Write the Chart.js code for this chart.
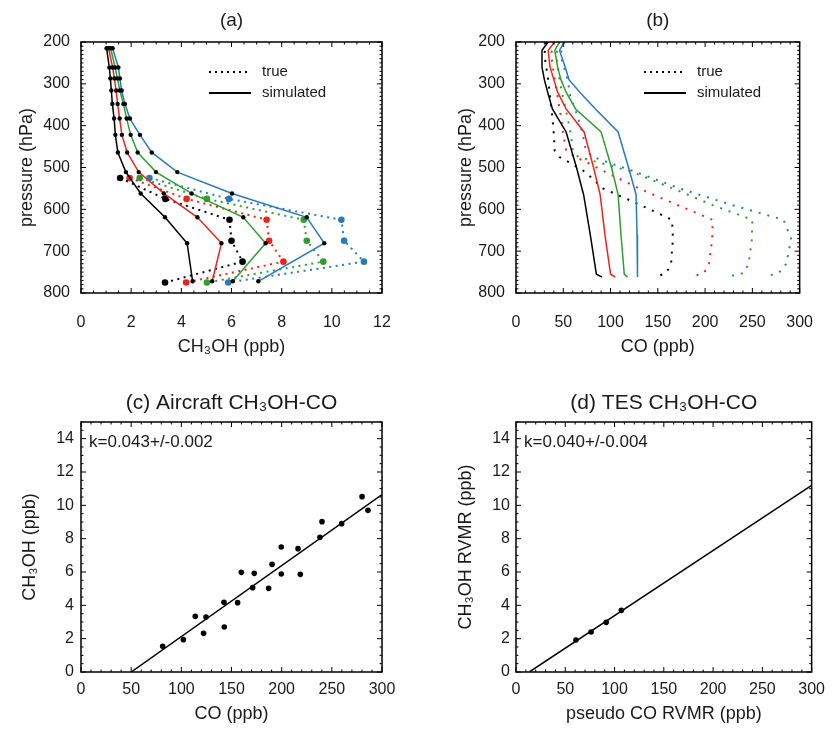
<!DOCTYPE html>
<html>
<head>
<meta charset="utf-8">
<title>CH3OH profiles and CH3OH-CO</title>
<script src="https://cdn.jsdelivr.net/npm/chart.js@4.4.1/dist/chart.umd.min.js"></script>
<style>
  body { margin: 0; background: #fff; }
  #wrap { position: relative; width: 833px; height: 735px; }
  #wrap canvas { position: absolute; }
</style>
</head>
<body>
<div id="wrap">
  <canvas id="panelA" width="416" height="367" style="left:0;top:0"></canvas>
  <canvas id="panelB" width="417" height="367" style="left:416px;top:0"></canvas>
  <canvas id="panelC" width="416" height="368" style="left:0;top:367px"></canvas>
  <canvas id="panelD" width="417" height="368" style="left:416px;top:367px"></canvas>
</div>
<script>
// (a) CH3OH profiles, pressure in hPa
var pSimA = [215, 261, 287, 316, 348, 383, 422, 464, 511, 562, 619, 681, 772];
var simBlackA = [1.02, 1.13, 1.17, 1.21, 1.25, 1.32, 1.37, 1.47, 1.79, 2.38, 3.35, 4.23, 4.45];
var simRedA = [1.10, 1.26, 1.33, 1.40, 1.46, 1.54, 1.63, 1.84, 2.30, 3.30, 4.64, 5.60, 5.23];
var simGreenA = [1.18, 1.36, 1.45, 1.55, 1.69, 1.82, 1.98, 2.26, 2.99, 4.41, 6.47, 7.36, 6.05];
var simBlueA = [1.26, 1.49, 1.55, 1.62, 1.75, 1.95, 2.35, 2.82, 3.84, 6.02, 9.00, 9.70, 7.07];
var pTrueA = [525, 575, 625, 675, 725, 775];
var trueBlackA = [1.56, 3.36, 5.92, 6.00, 6.44, 3.35];
var trueRedA = [1.94, 4.21, 7.40, 7.50, 8.07, 4.19];
var trueGreenA = [2.34, 5.02, 8.88, 9.00, 9.66, 5.02];
var trueBlueA = [2.73, 5.90, 10.38, 10.49, 11.28, 5.87];

// (b) CO profiles
var pSimB = [200, 220, 260, 290, 320, 360, 415, 500, 565, 660, 755, 762];
var simBlackB = [34, 27.5, 27.5, 30, 33.5, 38.5, 53, 64, 71.5, 78.5, 85, 91];
var simRedB = [41, 34, 36, 40, 44, 53, 72, 82, 89, 94, 100, 105];
var simGreenB = [46, 41, 44, 47.5, 53, 63, 90, 101, 108, 111, 114.5, 118];
var simBlueB = [51, 46, 52, 56, 67.5, 84, 108, 119, 127, 128, 128.5, 128.5];
var pTrueB = [200, 230, 290, 330, 380, 420, 460, 475, 490, 510, 550, 590, 625, 670, 730, 752, 760];
var trueBlackB = [32, 30, 34, 36, 38.5, 40, 41, 46, 58, 73, 92, 132, 165, 166, 164, 159, 150];
var trueRedB = [40, 37, 41, 44, 47.5, 50, 53, 63, 77, 94, 130, 171, 208, 207.5, 204, 199, 188];
var trueGreenB = [46, 42.5, 46, 49.5, 54.5, 58, 60, 66, 91, 122, 166, 208, 250, 249.5, 246, 241, 226];
var trueBlueB = [51, 47, 54.5, 57.5, 65.5, 70.5, 74, 82, 100, 126, 173, 229, 283, 291, 286, 278, 264];

// (c) aircraft CH3OH vs CO
var coC = [81.4, 102, 113.9, 124.6, 122.2, 142.8, 142.5, 156.1, 159.8, 171.1, 172.7, 187, 190.4, 199.6, 199.6, 216.3, 218.6, 238.2, 240.2, 259.8, 280.1, 286];
var ch3ohC = [1.54, 1.94, 3.34, 3.30, 2.32, 2.70, 4.18, 4.16, 5.98, 5.06, 5.92, 5.02, 6.46, 7.50, 5.88, 7.40, 5.86, 8.08, 9.02, 8.90, 10.52, 9.70];
var fitXC = [50, 300];
var fitYC = [0, 10.65];

// (d) TES CH3OH vs pseudo CO
var coD = [60.8, 76.2, 91.5, 106.9];
var ch3ohD = [1.92, 2.40, 2.98, 3.70];
var fitXD = [13.5, 300];
var fitYD = [0, 11.2];

var BLACK = '#000000', RED = '#e8261f', GREEN = '#2e9f2e', BLUE = '#2a7ab9';
var FONT = "'Liberation Sans', Arial, sans-serif";
var TEXT = '#1a1a1a';

Chart.defaults.font.family = FONT;
Chart.defaults.color = TEXT;

function pts(xs, ys) {
  return xs.map(function (v, i) { return {x: v, y: ys[i]}; });
}

// frame with inward major/minor ticks on all four sides, plus legend / notes
var framePlugin = {
  id: 'frame',
  afterDraw: function (chart, args, opts) {
    var ctx = chart.ctx, a = chart.chartArea;
    var xs = chart.scales.x, ys = chart.scales.y;
    ctx.save();
    ctx.strokeStyle = '#000';
    ctx.lineWidth = 1;
    function ticks(scale, minor, major, horizontal) {
      var n = Math.round((scale.max - scale.min) / minor);
      for (var i = 0; i <= n; i++) {
        var v = scale.min + i * minor;
        var isMajor = Math.abs(v / major - Math.round(v / major)) < 1e-6;
        var len = isMajor ? 5 : 2.5;
        var p = scale.getPixelForValue(v);
        ctx.beginPath();
        if (horizontal) {
          ctx.moveTo(p, a.bottom); ctx.lineTo(p, a.bottom - len);
          ctx.moveTo(p, a.top); ctx.lineTo(p, a.top + len);
        } else {
          ctx.moveTo(a.left, p); ctx.lineTo(a.left + len, p);
          ctx.moveTo(a.right, p); ctx.lineTo(a.right - len, p);
        }
        ctx.stroke();
      }
    }
    ticks(xs, opts.xMinor, opts.xMajor, true);
    ticks(ys, opts.yMinor, opts.yMajor, false);
    ctx.lineWidth = 1.5;
    ctx.strokeRect(a.left, a.top, a.right - a.left, a.bottom - a.top);

    ctx.fillStyle = TEXT;
    ctx.textBaseline = 'middle';
    ctx.textAlign = 'left';
    if (opts.legend) {
      ctx.font = '15px ' + FONT;
      ctx.strokeStyle = '#000';
      ctx.lineWidth = 2;
      ctx.setLineDash([2, 4]);
      ctx.beginPath();
      ctx.moveTo(a.left + 128, a.top + 30); ctx.lineTo(a.left + 170, a.top + 30);
      ctx.stroke();
      ctx.setLineDash([]);
      ctx.beginPath();
      ctx.moveTo(a.left + 128, a.top + 51); ctx.lineTo(a.left + 170, a.top + 51);
      ctx.stroke();
      ctx.fillText('true', a.left + 181, a.top + 30);
      ctx.fillText('simulated', a.left + 181, a.top + 51);
    }
    if (opts.note) {
      ctx.font = '17px ' + FONT;
      ctx.fillText(opts.note, a.left + 8, a.top + 20);
    }
    ctx.restore();
  }
};

function profileSets(py, sims, trues, ptrue, colors, markers) {
  var sets = [];
  for (var i = 0; i < sims.length; i++) {
    sets.push({
      data: pts(sims[i], py),
      showLine: true,
      borderColor: colors[i],
      borderWidth: 1.5,
      pointRadius: markers ? 2.2 : 0,
      pointBackgroundColor: BLACK,
      pointBorderWidth: 0
    });
  }
  for (var j = 0; j < trues.length; j++) {
    sets.push({
      data: pts(trues[j], ptrue),
      showLine: true,
      borderColor: colors[j],
      borderWidth: 2,
      borderDash: markers ? [2, 4.5] : [2, 7],
      pointRadius: markers ? 3.3 : 0,
      pointBackgroundColor: colors[j],
      pointBorderWidth: 0
    });
  }
  return sets;
}

// labelled ticks only at whole steps, never at an odd axis end
function stepTicks(min, max, step) {
  return function (scale) {
    var t = [];
    for (var v = min; v <= max + 1e-9; v += step) t.push({value: v});
    scale.ticks = t;
  };
}

function makePanel(id, o) {
  return new Chart(document.getElementById(id), {
    type: 'scatter',
    data: {datasets: o.datasets},
    options: {
      responsive: false,
      animation: false,
      events: [],
      layout: {padding: {top: 0, left: 0, right: o.padRight, bottom: 0}},
      plugins: {
        legend: {display: false},
        tooltip: {enabled: false},
        title: {
          display: true, text: o.title, fullSize: false, color: TEXT,
          font: {size: o.titleSize, weight: 'normal'},
          padding: {top: o.titleTop, bottom: o.top - o.titleTop - o.titleSize * 1.2}
        },
        frame: o.frame
      },
      scales: {
        x: {
          type: 'linear', min: o.xMin, max: o.xMax,
          border: {display: false},
          grid: {display: false, drawTicks: false},
          ticks: {maxRotation: 0, autoSkip: false, padding: o.xPad, font: {size: 16}, color: TEXT},
          afterBuildTicks: stepTicks(o.xMin, o.xMax, o.xStep),
          title: {display: true, text: o.xTitle, font: {size: 18}, color: TEXT, padding: {top: 0, bottom: o.xTitleBottom}},
          afterFit: function (s) { s.height = o.xHeight; }
        },
        y: {
          type: 'linear', min: o.yMin, max: o.yMax, reverse: o.reverse,
          border: {display: false},
          grid: {display: false, drawTicks: false},
          ticks: {autoSkip: false, padding: o.yPad, font: {size: 16}, color: TEXT},
          afterBuildTicks: stepTicks(o.yMin, o.yMax, o.yStep),
          title: {display: true, text: o.yTitle, font: {size: 18}, color: TEXT, padding: {top: o.yTitleTop, bottom: 0}},
          afterFit: function (s) { s.width = o.yWidth; }
        }
      }
    },
    plugins: [framePlugin]
  });
}

var colors = [BLACK, RED, GREEN, BLUE];

makePanel('panelA', {
  datasets: profileSets(pSimA, [simBlackA, simRedA, simGreenA, simBlueA],
    [trueBlackA, trueRedA, trueGreenA, trueBlueA], pTrueA, colors, true),
  title: '(a)', titleSize: 19, titleTop: 9, top: 42,
  padRight: 34, yWidth: 81, xHeight: 74,
  xMin: 0, xMax: 12, xStep: 2, xPad: 20, xTitle: 'CH\u2083OH (ppb)', xTitleBottom: 9,
  yMin: 200, yMax: 800, yStep: 100, reverse: true, yPad: 11, yTitle: 'pressure (hPa)', yTitleTop: 16,
  frame: {xMinor: 0.5, xMajor: 2, yMinor: 10, yMajor: 100, legend: true}
});

makePanel('panelB', {
  datasets: profileSets(pSimB, [simBlackB, simRedB, simGreenB, simBlueB],
    [trueBlackB, trueRedB, trueGreenB, trueBlueB], pTrueB, colors, false),
  title: '(b)', titleSize: 19, titleTop: 9, top: 42,
  padRight: 17, yWidth: 100, xHeight: 74,
  xMin: 0, xMax: 300, xStep: 50, xPad: 20, xTitle: 'CO (ppb)', xTitleBottom: 9,
  yMin: 200, yMax: 800, yStep: 100, reverse: true, yPad: 11, yTitle: 'pressure (hPa)', yTitleTop: 39,
  frame: {xMinor: 10, xMajor: 50, yMinor: 10, yMajor: 100, legend: true}
});

makePanel('panelC', {
  datasets: [
    {data: pts(fitXC, fitYC), showLine: true, borderColor: BLACK, borderWidth: 1.5, pointRadius: 0},
    {data: pts(coC, ch3ohC), pointRadius: 2.8, pointBackgroundColor: BLACK, pointBorderWidth: 0}
  ],
  title: '(c) Aircraft CH\u2083OH-CO', titleSize: 21, titleTop: 24, top: 55,
  padRight: 34, yWidth: 81, xHeight: 63,
  xMin: 0, xMax: 300, xStep: 50, xPad: 8, xTitle: 'CO (ppb)', xTitleBottom: 10,
  yMin: 0, yMax: 15, yStep: 2, reverse: false, yPad: 7, yTitle: 'CH\u2083OH (ppb)', yTitleTop: 19,
  frame: {xMinor: 10, xMajor: 50, yMinor: 0.5, yMajor: 2, note: 'k=0.043+/-0.002'}
});

makePanel('panelD', {
  datasets: [
    {data: pts(fitXD, fitYD), showLine: true, borderColor: BLACK, borderWidth: 1.5, pointRadius: 0},
    {data: pts(coD, ch3ohD), pointRadius: 2.8, pointBackgroundColor: BLACK, pointBorderWidth: 0}
  ],
  title: '(d) TES CH\u2083OH-CO', titleSize: 21, titleTop: 24, top: 55,
  padRight: 17, yWidth: 100, xHeight: 63,
  xMin: 0, xMax: 300, xStep: 50, xPad: 8, xTitle: 'pseudo CO RVMR (ppb)', xTitleBottom: 10,
  yMin: 0, yMax: 15, yStep: 2, reverse: false, yPad: 6, yTitle: 'CH\u2083OH RVMR (ppb)', yTitleTop: 39,
  frame: {xMinor: 10, xMajor: 50, yMinor: 0.5, yMajor: 2, note: 'k=0.040+/-0.004'}
});
</script>
</body>
</html>
